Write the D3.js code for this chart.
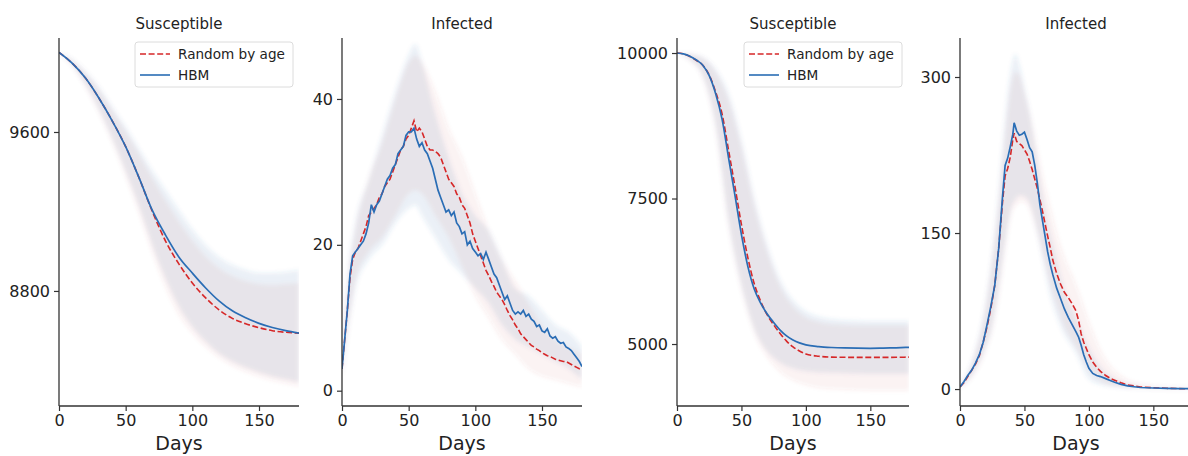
<!DOCTYPE html>
<html>
<head>
<meta charset="utf-8">
<script src="https://cdn.jsdelivr.net/npm/d3@7"></script>
<style>
  html, body { margin: 0; padding: 0; background: #fff; }
  svg { display: block; font-family: "DejaVu Sans", sans-serif; }
</style>
</head>
<body>
<svg id="chart" width="1188" height="456"></svg>
<script>
// ---------------- Data ----------------
const xTicks = [0, 50, 100, 150];
const seriesNames = ["Random by age", "HBM"];

// Panel A: Susceptible (small population outbreak)
const susADays = [0, 10, 20, 30, 40, 50, 60, 70, 80, 90, 100, 110, 120, 130, 140, 150, 160, 170, 180];
const susAHbm  = [10000, 9945, 9870, 9770, 9655, 9526, 9370, 9205, 9080, 8970, 8890, 8815, 8750, 8700, 8665, 8637, 8616, 8600, 8588];
const susARand = [10000, 9945, 9870, 9770, 9655, 9526, 9370, 9200, 9050, 8935, 8840, 8765, 8705, 8662, 8635, 8615, 8600, 8592, 8588];
const susAHbmHi  = [10000, 9965, 9905, 9825, 9725, 9625, 9515, 9405, 9305, 9205, 9110, 9030, 8970, 8930, 8905, 8890, 8890, 8895, 8905];
const susAHbmLo  = [10000, 9935, 9835, 9710, 9565, 9400, 9225, 9030, 8860, 8720, 8620, 8545, 8485, 8445, 8415, 8390, 8370, 8355, 8340];
const susARandHi = [10000, 9962, 9898, 9815, 9710, 9605, 9490, 9370, 9255, 9150, 9055, 8975, 8915, 8875, 8850, 8835, 8830, 8835, 8840];
const susARandLo = [10000, 9932, 9828, 9700, 9550, 9380, 9195, 8995, 8820, 8680, 8590, 8520, 8465, 8425, 8395, 8370, 8350, 8335, 8320];
const susATicks = [8800, 9600];

// Panel B: Infected (small population outbreak)
const infBDays = d3.range(0, 181, 2);
const infBHbm = [3, 7, 11, 16, 18.5, 19, 19.5, 20, 20.5, 21.5, 23, 25.5, 24.5, 25.5, 26, 27, 28, 29, 29.5, 30.5,
  31, 32.5, 33, 33.5, 35, 35.5, 35.5, 36, 34.5, 33.5, 34, 33, 32.5, 31.5, 30.5, 29, 27.5, 26.5, 25.5, 24.5,
  24.8, 24, 24.5, 23, 22.5, 21.5, 21.8, 20, 20.5, 19.5, 19, 18.5, 18.8, 18, 19, 18, 17, 16, 15.5, 14.5,
  13.5, 12.5, 13, 12, 11, 10.5, 10.8, 10.5, 11, 10.2, 10.5, 9.8, 9.5, 8.8, 9, 8.2, 8, 8.5, 7.5, 7.2,
  7.4, 6.8, 6.5, 6.6, 6, 5.8, 5.5, 5, 4.5, 4, 3.3];
const infBRand = [3, 7, 11, 15.5, 18, 19, 19.5, 20.5, 21.5, 22.5, 24, 24.5, 25, 25.5, 26.5, 27, 28, 28.5, 29, 30,
  31, 32, 33, 33.5, 34.5, 35, 36, 37, 35.5, 36, 35.5, 34.5, 33.5, 33, 33, 32.8, 32.5, 32, 31, 30,
  29, 28.5, 28, 27, 26.5, 25.5, 25, 24, 23, 21.5, 20.5, 19.5, 18.5, 17.5, 16.5, 15.8, 15, 14.3, 13.5, 13,
  12.5, 11.8, 11, 10.3, 9.7, 9, 8.5, 7.8, 7.4, 7, 6.6, 6.2, 6, 5.7, 5.5, 5.2, 5, 4.8, 4.7, 4.5,
  4.3, 4.2, 4.1, 4, 4, 3.8, 3.6, 3.4, 3.2, 3, 2.9];
const infBBandDays = [0, 5, 10, 20, 30, 40, 50, 55, 60, 70, 80, 90, 100, 110, 120, 130, 140, 150, 160, 170, 180];
const infBHbmHi  = [4, 17, 23, 29, 35, 41, 46, 47.5, 45, 38, 32, 27, 24, 22, 18, 14, 13, 11, 9, 8, 6];
const infBHbmLo  = [2, 9, 14, 18, 20, 23, 25, 25.5, 24, 21, 18, 16, 14, 12, 9, 7, 6, 5, 4, 3, 1.5];
const infBRandHi = [4, 16, 22, 29, 34, 40, 45, 46, 45, 41, 36, 32, 27, 22, 18, 15, 12, 9, 7, 6, 5];
const infBRandLo = [2, 9, 15, 19, 21, 24, 27, 27.5, 27, 24, 21, 17, 13, 10, 7, 5, 3, 2, 1.5, 1, 0.5];
const infBTicks = [0, 20, 40];

// Panel C: Susceptible (large population outbreak)
const susCDays = [0, 5, 10, 15, 20, 25, 30, 35, 40, 45, 50, 55, 60, 65, 70, 75, 80, 85, 90, 95, 100, 110, 120, 130, 140, 150, 160, 170, 180];
const susCHbm  = [10000, 9985, 9945, 9880, 9790, 9610, 9300, 8860, 8200, 7550, 6880, 6330, 5940, 5700, 5515, 5370, 5240, 5140, 5070, 5020, 4985, 4955, 4940, 4932, 4928, 4926, 4930, 4935, 4943];
const susCRand = [10000, 9985, 9940, 9875, 9790, 9620, 9330, 8950, 8330, 7700, 7050, 6480, 6030, 5730, 5500, 5330, 5180, 5050, 4950, 4880, 4830, 4790, 4775, 4772, 4770, 4770, 4770, 4772, 4775];
const susCBandDays = [0, 10, 20, 30, 40, 50, 60, 70, 80, 90, 100, 110, 120, 140, 160, 180];
const susCHbmHi  = [10000, 9988, 9930, 9720, 9300, 8500, 7500, 6700, 6100, 5750, 5560, 5470, 5430, 5400, 5390, 5390];
const susCHbmLo  = [10000, 9880, 9600, 8750, 7100, 6000, 5250, 4870, 4680, 4580, 4530, 4510, 4500, 4490, 4485, 4485];
const susCRandHi = [10000, 9985, 9920, 9680, 9200, 8400, 7400, 6600, 6000, 5650, 5460, 5380, 5340, 5320, 5320, 5320];
const susCRandLo = [10000, 9870, 9580, 8700, 7050, 5950, 5200, 4780, 4520, 4380, 4300, 4250, 4230, 4210, 4200, 4200];
const susCTicks = [5000, 7500, 10000];

// Panel D: Infected (large population outbreak)
const infDDays = [0, 3, 6, 9, 12, 15, 18, 21, 24, 27, 30, 33, 35, 37, 39, 41, 42, 44, 46, 48, 50, 52, 54, 56, 58, 60,
  62, 64, 66, 68, 70, 72, 75, 78, 81, 84, 87, 90, 92, 94, 96, 98, 100, 103, 106, 109, 113, 117, 120, 125, 130, 135, 140, 150, 160, 170, 180];
const infDHbm  = [2, 7, 13, 18, 25, 33, 45, 62, 80, 100, 135, 185, 215, 222, 233, 245, 256, 248, 244, 245, 247, 240, 232, 228, 215, 198,
  177, 162, 147, 132, 120, 110, 97, 87, 77, 69, 62, 55, 50, 42, 33, 26, 20, 15, 13, 12, 10, 8, 6.5, 4.5, 3, 2.2, 1.5, 1, 0.6, 0.4, 0.3];
const infDRand = [2, 6, 12, 18, 24, 32, 45, 60, 78, 100, 135, 180, 205, 212, 223, 240, 246, 238, 236, 234, 230, 226, 219, 211, 202, 193,
  182, 171, 159, 147, 136, 124, 111, 101, 93, 88, 82, 75, 66, 53, 45, 39, 33, 26, 21, 17, 13, 10, 8.5, 6, 4, 3, 2, 1.2, 0.7, 0.4, 0.3];
const infDBandDays = [0, 10, 20, 25, 30, 35, 40, 43, 46, 50, 55, 60, 65, 70, 75, 80, 90, 100, 110, 120, 130, 140, 160, 180];
const infDHbmHi  = [3, 30, 85, 130, 190, 260, 310, 322, 312, 290, 260, 220, 180, 150, 125, 100, 70, 40, 20, 10, 5, 3, 1.5, 1];
const infDHbmLo  = [1, 14, 40, 60, 95, 140, 175, 182, 186, 185, 175, 150, 120, 90, 70, 55, 35, 10, 4, 2, 1, 0.5, 0, 0];
const infDRandHi = [3, 28, 80, 125, 180, 245, 295, 305, 302, 285, 260, 230, 200, 175, 150, 130, 100, 65, 35, 18, 9, 5, 2, 1];
const infDRandLo = [1, 13, 38, 58, 90, 135, 170, 176, 180, 180, 170, 150, 125, 100, 80, 62, 40, 18, 7, 3, 1.5, 1, 0, 0];
const infDTicks = [0, 150, 300];

// ---------------- Layout & styles ----------------
const HBM_COLOR = "#2a6db5";
const RAND_COLOR = "#d62728";
const AXIS_COLOR = "#333";
const TOP = 38, BOTTOM = 406;

const panels = [
  { title: "Susceptible", left: 59, right: 299, yDomain: [8221, 10073], yTicks: susATicks,
    days: susADays, hbm: susAHbm, rand: susARand,
    bandDays: susADays, hbmHi: susAHbmHi, hbmLo: susAHbmLo, randHi: susARandHi, randLo: susARandLo,
    legend: { x: 135, y: 42, w: 158, h: 45 } },
  { title: "Infected", left: 342, right: 582, yDomain: [-2.1, 48.36], yTicks: infBTicks,
    days: infBDays, hbm: infBHbm, rand: infBRand,
    bandDays: infBBandDays, hbmHi: infBHbmHi, hbmLo: infBHbmLo, randHi: infBRandHi, randLo: infBRandLo },
  { title: "Susceptible", left: 677, right: 909, yDomain: [3935, 10258], yTicks: susCTicks,
    days: susCDays, hbm: susCHbm, rand: susCRand,
    bandDays: susCBandDays, hbmHi: susCHbmHi, hbmLo: susCHbmLo, randHi: susCRandHi, randLo: susCRandLo,
    legend: { x: 744, y: 42, w: 158, h: 45 } },
  { title: "Infected", left: 960, right: 1192, yDomain: [-16.3, 337.5], yTicks: infDTicks,
    days: infDDays, hbm: infDHbm, rand: infDRand,
    bandDays: infDBandDays, hbmHi: infDHbmHi, hbmLo: infDHbmLo, randHi: infDRandHi, randLo: infDRandLo }
];

const svg = d3.select("#chart");
const defs = svg.append("defs");
defs.append("filter").attr("id", "soft").attr("x", "-5%").attr("y", "-5%").attr("width", "110%").attr("height", "110%")
  .append("feGaussianBlur").attr("stdDeviation", 2);

panels.forEach((p, i) => {
  const x = d3.scaleLinear().domain([0, 180]).range([p.left, p.right]);
  const y = d3.scaleLinear().domain(p.yDomain).range([BOTTOM, TOP]);
  const g = svg.append("g").attr("class", "panel-" + i);

  const clipId = "clip" + i;
  defs.append("clipPath").attr("id", clipId)
    .append("rect").attr("x", p.left).attr("y", TOP).attr("width", p.right - p.left).attr("height", BOTTOM - TOP);

  // Spread bands
  const bandRows = (hi, lo) => p.bandDays.map((d, k) => ({ d, hi: hi[k], lo: lo[k] }));
  const area = d3.area().x(r => x(r.d)).y0(r => y(r.lo)).y1(r => y(r.hi)).curve(d3.curveMonotoneX);
  const bands = g.append("g").attr("clip-path", `url(#${clipId})`).append("g").attr("filter", "url(#soft)");
  bands.append("path").datum(bandRows(p.hbmHi, p.hbmLo))
    .attr("d", area).attr("fill", "#2f6fb0").attr("fill-opacity", 0.1);
  bands.append("path").datum(bandRows(p.randHi, p.randLo))
    .attr("d", area).attr("fill", "#c8403a").attr("fill-opacity", 0.065);

  // Mean lines
  const rows = vals => p.days.map((d, k) => ({ d, v: vals[k] }));
  const line = d3.line().x(r => x(r.d)).y(r => y(r.v));
  if (p.days.length < 40) line.curve(d3.curveMonotoneX);
  const lines = g.append("g").attr("clip-path", `url(#${clipId})`);
  lines.append("path").datum(rows(p.rand)).attr("d", line)
    .attr("fill", "none").attr("stroke", RAND_COLOR).attr("stroke-width", 1.6)
    .attr("stroke-dasharray", "6,2.6");
  lines.append("path").datum(rows(p.hbm)).attr("d", line)
    .attr("fill", "none").attr("stroke", HBM_COLOR).attr("stroke-width", 1.7);

  // Axes
  const xAxis = g.append("g").attr("transform", `translate(0,${BOTTOM})`)
    .call(d3.axisBottom(x).tickValues(xTicks).tickSize(5).tickPadding(4).tickSizeOuter(0));
  const yAxis = g.append("g").attr("transform", `translate(${p.left},0)`)
    .call(d3.axisLeft(y).tickValues(p.yTicks).tickSize(5).tickPadding(4).tickSizeOuter(0).tickFormat(d3.format("d")));
  [xAxis, yAxis].forEach(a => {
    a.select(".domain").attr("stroke", AXIS_COLOR).attr("stroke-width", 1.3);
    a.selectAll(".tick line").attr("stroke", AXIS_COLOR).attr("stroke-width", 1.2);
    a.selectAll(".tick text").attr("fill", "#222").style("font-size", "16px")
      .style("font-family", "'DejaVu Sans', sans-serif");
  });
  xAxis.selectAll(".domain").attr("d", `M${p.left},0H${p.right}`);
  yAxis.selectAll(".domain").attr("d", `M0,${BOTTOM}V${TOP}`);

  // Title and axis label
  g.append("text").attr("x", (p.left + p.right) / 2).attr("y", 29)
    .attr("text-anchor", "middle").attr("fill", "#222").style("font-size", "15px").text(p.title);
  g.append("text").attr("x", (p.left + p.right) / 2).attr("y", 450)
    .attr("text-anchor", "middle").attr("fill", "#222").style("font-size", "19px").text("Days");

  // Legend
  if (p.legend) {
    const L = p.legend;
    const lg = g.append("g").attr("transform", `translate(${L.x},${L.y})`);
    lg.append("rect").attr("width", L.w).attr("height", L.h).attr("rx", 3)
      .attr("fill", "#fff").attr("fill-opacity", 0.85).attr("stroke", "#dcdcdc").attr("stroke-width", 1);
    const items = [
      { name: seriesNames[0], color: RAND_COLOR, dash: "6,2.6" },
      { name: seriesNames[1], color: HBM_COLOR, dash: null }
    ];
    items.forEach((it, k) => {
      const cy = 12 + k * 21;
      lg.append("line").attr("x1", 5).attr("x2", 35).attr("y1", cy).attr("y2", cy)
        .attr("stroke", it.color).attr("stroke-width", 1.6).attr("stroke-dasharray", it.dash);
      lg.append("text").attr("x", 43).attr("y", cy + 5).attr("fill", "#222")
        .style("font-size", "13.6px").text(it.name);
    });
  }
});
</script>
</body>
</html>
